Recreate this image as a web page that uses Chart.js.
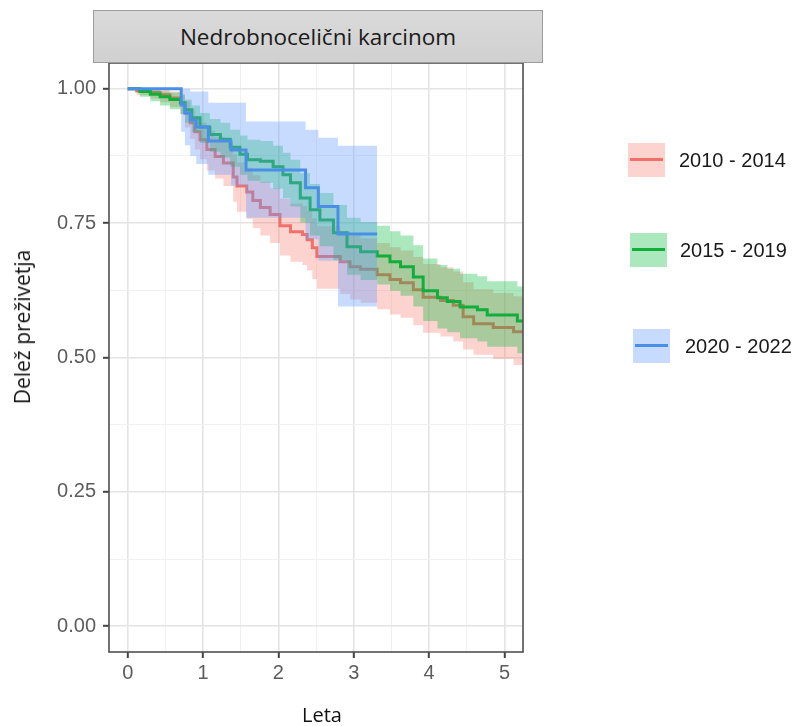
<!DOCTYPE html>
<html>
<head>
<meta charset="utf-8">
<script src="https://cdn.jsdelivr.net/npm/chart.js@4.4.1/dist/chart.umd.min.js"></script>
<style>
  body { margin: 0; background: #fff; }
  #wrap { position: relative; width: 802px; height: 726px; overflow: hidden; }
  #strip {
    position: absolute; left: 93px; top: 10px; width: 448px; height: 51px;
    background: linear-gradient(#dadada, #d0d0d0); border: 1px solid #9c9c9c;
    font: 22.5px "Open Sans", sans-serif; color: #1a1a1a;
    display: flex; align-items: center; justify-content: center;
  }
  .ytitle {
    position: absolute; left: 22px; top: 327px; white-space: nowrap;
    transform: translate(-50%, -50%) rotate(-90deg);
    font: 21px "Open Sans", sans-serif; color: #111;
  }
  .xtitle {
    position: absolute; left: 322px; top: 714px; white-space: nowrap;
    transform: translate(-50%, -50%);
    font: 20px "Open Sans", sans-serif; color: #111;
  }
  .key { position: absolute; width: 37px; height: 34px; }
  .key i { position: absolute; left: 2px; right: 2px; top: 15px; height: 3px; }
  .lab {
    position: absolute; white-space: nowrap; transform: translateY(-50%);
    font: 20px "Liberation Sans", Arial, sans-serif; color: #1a1a1a;
  }
</style>
</head>
<body>
<div id="wrap">
  <canvas id="kmChart" width="802" height="726"></canvas>
  <div id="strip"></div>
  <div class="ytitle" id="ytitle"></div>
  <div class="xtitle" id="xtitle"></div>
</div>
<script>
// --- data ---
const panelTitle = 'Nedrobnocelični karcinom';
const xTitle = 'Leta';
const yTitle = 'Delež preživetja';
const groups = ['2010 - 2014', '2015 - 2019', '2020 - 2022'];

const xTicks = [0, 0.5, 1, 1.5, 2, 2.5, 3, 3.5, 4, 4.5, 5];
const yTicks = [0, 0.125, 0.25, 0.375, 0.5, 0.625, 0.75, 0.875, 1];

// 2010 - 2014
const redTime = [0, 0.12, 0.30, 0.43, 0.56, 0.70, 0.76, 0.83, 0.89, 0.96, 1.05, 1.16, 1.27, 1.40, 1.45,
  1.58, 1.66, 1.76, 1.89, 2.02, 2.16, 2.32, 2.38, 2.45, 2.51, 2.82, 2.95, 3.09, 3.31, 3.48,
  3.62, 3.79, 3.92, 4.15, 4.32, 4.45, 4.59, 4.85, 5.12, 5.25];
const redSurv = [1, 0.996, 0.993, 0.989, 0.983, 0.974, 0.955, 0.937, 0.920, 0.905, 0.887, 0.874, 0.862, 0.836, 0.819,
  0.808, 0.792, 0.779, 0.766, 0.745, 0.734, 0.729, 0.719, 0.704, 0.688, 0.678, 0.669, 0.664, 0.654, 0.645,
  0.639, 0.626, 0.612, 0.606, 0.597, 0.576, 0.563, 0.556, 0.548, 0.548];
const redLow = [1, 0.988, 0.982, 0.975, 0.966, 0.952, 0.928, 0.907, 0.887, 0.869, 0.848, 0.833, 0.819, 0.790, 0.771,
  0.758, 0.741, 0.727, 0.713, 0.690, 0.678, 0.672, 0.662, 0.646, 0.628, 0.618, 0.608, 0.602, 0.590, 0.580,
  0.574, 0.560, 0.546, 0.539, 0.530, 0.515, 0.505, 0.497, 0.486, 0.484];
const redUp = [1, 1, 1, 0.998, 0.995, 0.990, 0.977, 0.963, 0.949, 0.937, 0.922, 0.911, 0.901, 0.878, 0.863,
  0.853, 0.839, 0.827, 0.815, 0.796, 0.786, 0.782, 0.773, 0.759, 0.744, 0.735, 0.727, 0.722, 0.713, 0.705,
  0.699, 0.687, 0.674, 0.668, 0.660, 0.640, 0.627, 0.620, 0.614, 0.614];

// 2015 - 2019
const greenTime = [0, 0.16, 0.30, 0.43, 0.56, 0.70, 0.76, 0.85, 0.96, 1.09, 1.23, 1.36, 1.49, 1.59, 1.76,
  1.93, 2.06, 2.16, 2.29, 2.42, 2.55, 2.73, 2.91, 3.09, 3.31, 3.48, 3.62, 3.79, 3.92, 4.11,
  4.24, 4.41, 4.64, 4.77, 5.17, 5.25];
const greenSurv = [1, 0.995, 0.990, 0.985, 0.980, 0.974, 0.961, 0.946, 0.929, 0.915, 0.906, 0.891, 0.878, 0.868, 0.865,
  0.855, 0.840, 0.825, 0.797, 0.775, 0.756, 0.732, 0.706, 0.697, 0.689, 0.678, 0.669, 0.650, 0.624, 0.611,
  0.604, 0.594, 0.589, 0.579, 0.568, 0.568];
const greenLow = [1, 0.985, 0.977, 0.969, 0.962, 0.953, 0.937, 0.919, 0.899, 0.883, 0.872, 0.855, 0.840, 0.829, 0.825,
  0.814, 0.797, 0.781, 0.751, 0.727, 0.707, 0.681, 0.654, 0.644, 0.636, 0.624, 0.615, 0.595, 0.568, 0.554,
  0.547, 0.536, 0.530, 0.520, 0.508, 0.508];
const greenUp = [1, 1, 0.998, 0.995, 0.993, 0.989, 0.980, 0.969, 0.955, 0.944, 0.937, 0.924, 0.913, 0.905, 0.903,
  0.894, 0.881, 0.868, 0.843, 0.823, 0.806, 0.784, 0.760, 0.752, 0.745, 0.735, 0.727, 0.709, 0.684, 0.672,
  0.665, 0.656, 0.651, 0.642, 0.632, 0.632];

// 2020 - 2022
const blueTime = [0, 0.71, 0.76, 0.83, 0.91, 1.07, 1.37, 1.57, 2.36, 2.53, 2.79, 3.31];
const blueSurv = [1, 0.970, 0.955, 0.942, 0.929, 0.903, 0.886, 0.849, 0.816, 0.781, 0.730, 0.730];
const blueLow = [1, 0.920, 0.895, 0.875, 0.860, 0.840, 0.820, 0.760, 0.720, 0.680, 0.595, 0.595];
const blueUp = [1, 1, 1, 0.995, 0.995, 0.974, 0.974, 0.939, 0.924, 0.909, 0.894, 0.894];

// --- styles ---
const lineColors = ['#F0716A', '#12AE3C', '#4A8FE7'];
const bandColors = ['rgba(248,118,109,0.32)', 'rgba(0,186,56,0.33)', 'rgba(97,156,255,0.36)'];
const keyPos = [[628, 143, 679], [630, 233, 680], [633, 329, 685]];

const series = [
  {t: redTime, s: redSurv, lo: redLow, hi: redUp},
  {t: greenTime, s: greenSurv, lo: greenLow, hi: greenUp},
  {t: blueTime, s: blueSurv, lo: blueLow, hi: blueUp}
];

function pts(t, v) {
  return t.map((x, i) => ({x: x, y: v[i]}));
}

const datasets = [];
series.forEach((g, k) => {
  const base = datasets.length;
  const ord = 10 - k * 3; // red at the bottom, blue on top
  datasets.push({data: pts(g.t, g.lo), borderWidth: 0, pointRadius: 0, stepped: true, fill: false, order: ord});
  datasets.push({data: pts(g.t, g.hi), borderWidth: 0, pointRadius: 0, stepped: true,
    fill: base, backgroundColor: bandColors[k], order: ord});
  datasets.push({label: groups[k], data: pts(g.t, g.s), borderColor: lineColors[k], borderWidth: 3,
    pointRadius: 0, stepped: true, fill: false, order: ord - 1});
});

const isMajor = (v, step) => Math.abs(v / step - Math.round(v / step)) < 1e-9;

const panelBorder = {
  id: 'panelBorder',
  afterDatasetsDraw(chart) {
    const a = chart.chartArea, c = chart.ctx;
    c.save();
    c.strokeStyle = '#505050';
    c.lineWidth = 1.6;
    c.strokeRect(a.left, a.top, a.right - a.left, a.bottom - a.top);
    c.restore();
  }
};

const tickFont = {family: '"Liberation Sans", Arial, sans-serif', size: 20};

const config = {
  type: 'line',
  data: {datasets: datasets},
  options: {
    responsive: false,
    animation: false,
    events: [],
    layout: {padding: {left: 0, top: 63, right: 279, bottom: 0}},
    plugins: {legend: {display: false}, tooltip: {enabled: false}},
    scales: {
      x: {
        type: 'linear', min: -0.248, max: 5.245,
        afterBuildTicks: s => { s.ticks = xTicks.map(v => ({value: v})); },
        afterFit: s => { s.height = 74; },
        ticks: {autoSkip: false, maxRotation: 0, padding: 3, color: '#5c5c5c', font: tickFont,
          callback: v => isMajor(v, 1) ? String(v) : ''},
        grid: {
          color: c => isMajor(c.tick.value, 1) ? '#e4e4e4' : '#f1f1f1',
          lineWidth: c => isMajor(c.tick.value, 1) ? 1.6 : 1,
          tickLength: 6,
          tickWidth: 2,
          tickColor: c => isMajor(c.tick.value, 1) ? '#444' : 'rgba(0,0,0,0)'
        },
        border: {display: false}
      },
      y: {
        type: 'linear', min: -0.048, max: 1.048,
        afterBuildTicks: s => { s.ticks = yTicks.map(v => ({value: v})); },
        afterFit: s => { s.width = 109; },
        ticks: {autoSkip: false, padding: 7, color: '#5c5c5c', font: tickFont,
          callback: v => isMajor(v, 0.25) ? v.toFixed(2) : ''},
        grid: {
          color: c => isMajor(c.tick.value, 0.25) ? '#e4e4e4' : '#f1f1f1',
          lineWidth: c => isMajor(c.tick.value, 0.25) ? 1.6 : 1,
          tickLength: 6,
          tickWidth: 2,
          tickColor: c => isMajor(c.tick.value, 0.25) ? '#444' : 'rgba(0,0,0,0)'
        },
        border: {display: false}
      }
    }
  },
  plugins: [panelBorder]
};

const kmChart = new Chart(document.getElementById('kmChart').getContext('2d'), config);

// strip, axis titles and legend
document.getElementById('strip').textContent = panelTitle;
document.getElementById('xtitle').textContent = xTitle;
document.getElementById('ytitle').textContent = yTitle;

const wrap = document.getElementById('wrap');
groups.forEach((name, k) => {
  const [kx, ky, tx] = keyPos[k];
  const key = document.createElement('div');
  key.className = 'key';
  key.style.left = kx + 'px';
  key.style.top = ky + 'px';
  key.style.background = bandColors[k];
  const ln = document.createElement('i');
  ln.style.background = lineColors[k];
  key.appendChild(ln);
  wrap.appendChild(key);
  const lab = document.createElement('div');
  lab.className = 'lab';
  lab.style.left = tx + 'px';
  lab.style.top = (ky + 17) + 'px';
  lab.textContent = name;
  wrap.appendChild(lab);
});
</script>
</body>
</html>
